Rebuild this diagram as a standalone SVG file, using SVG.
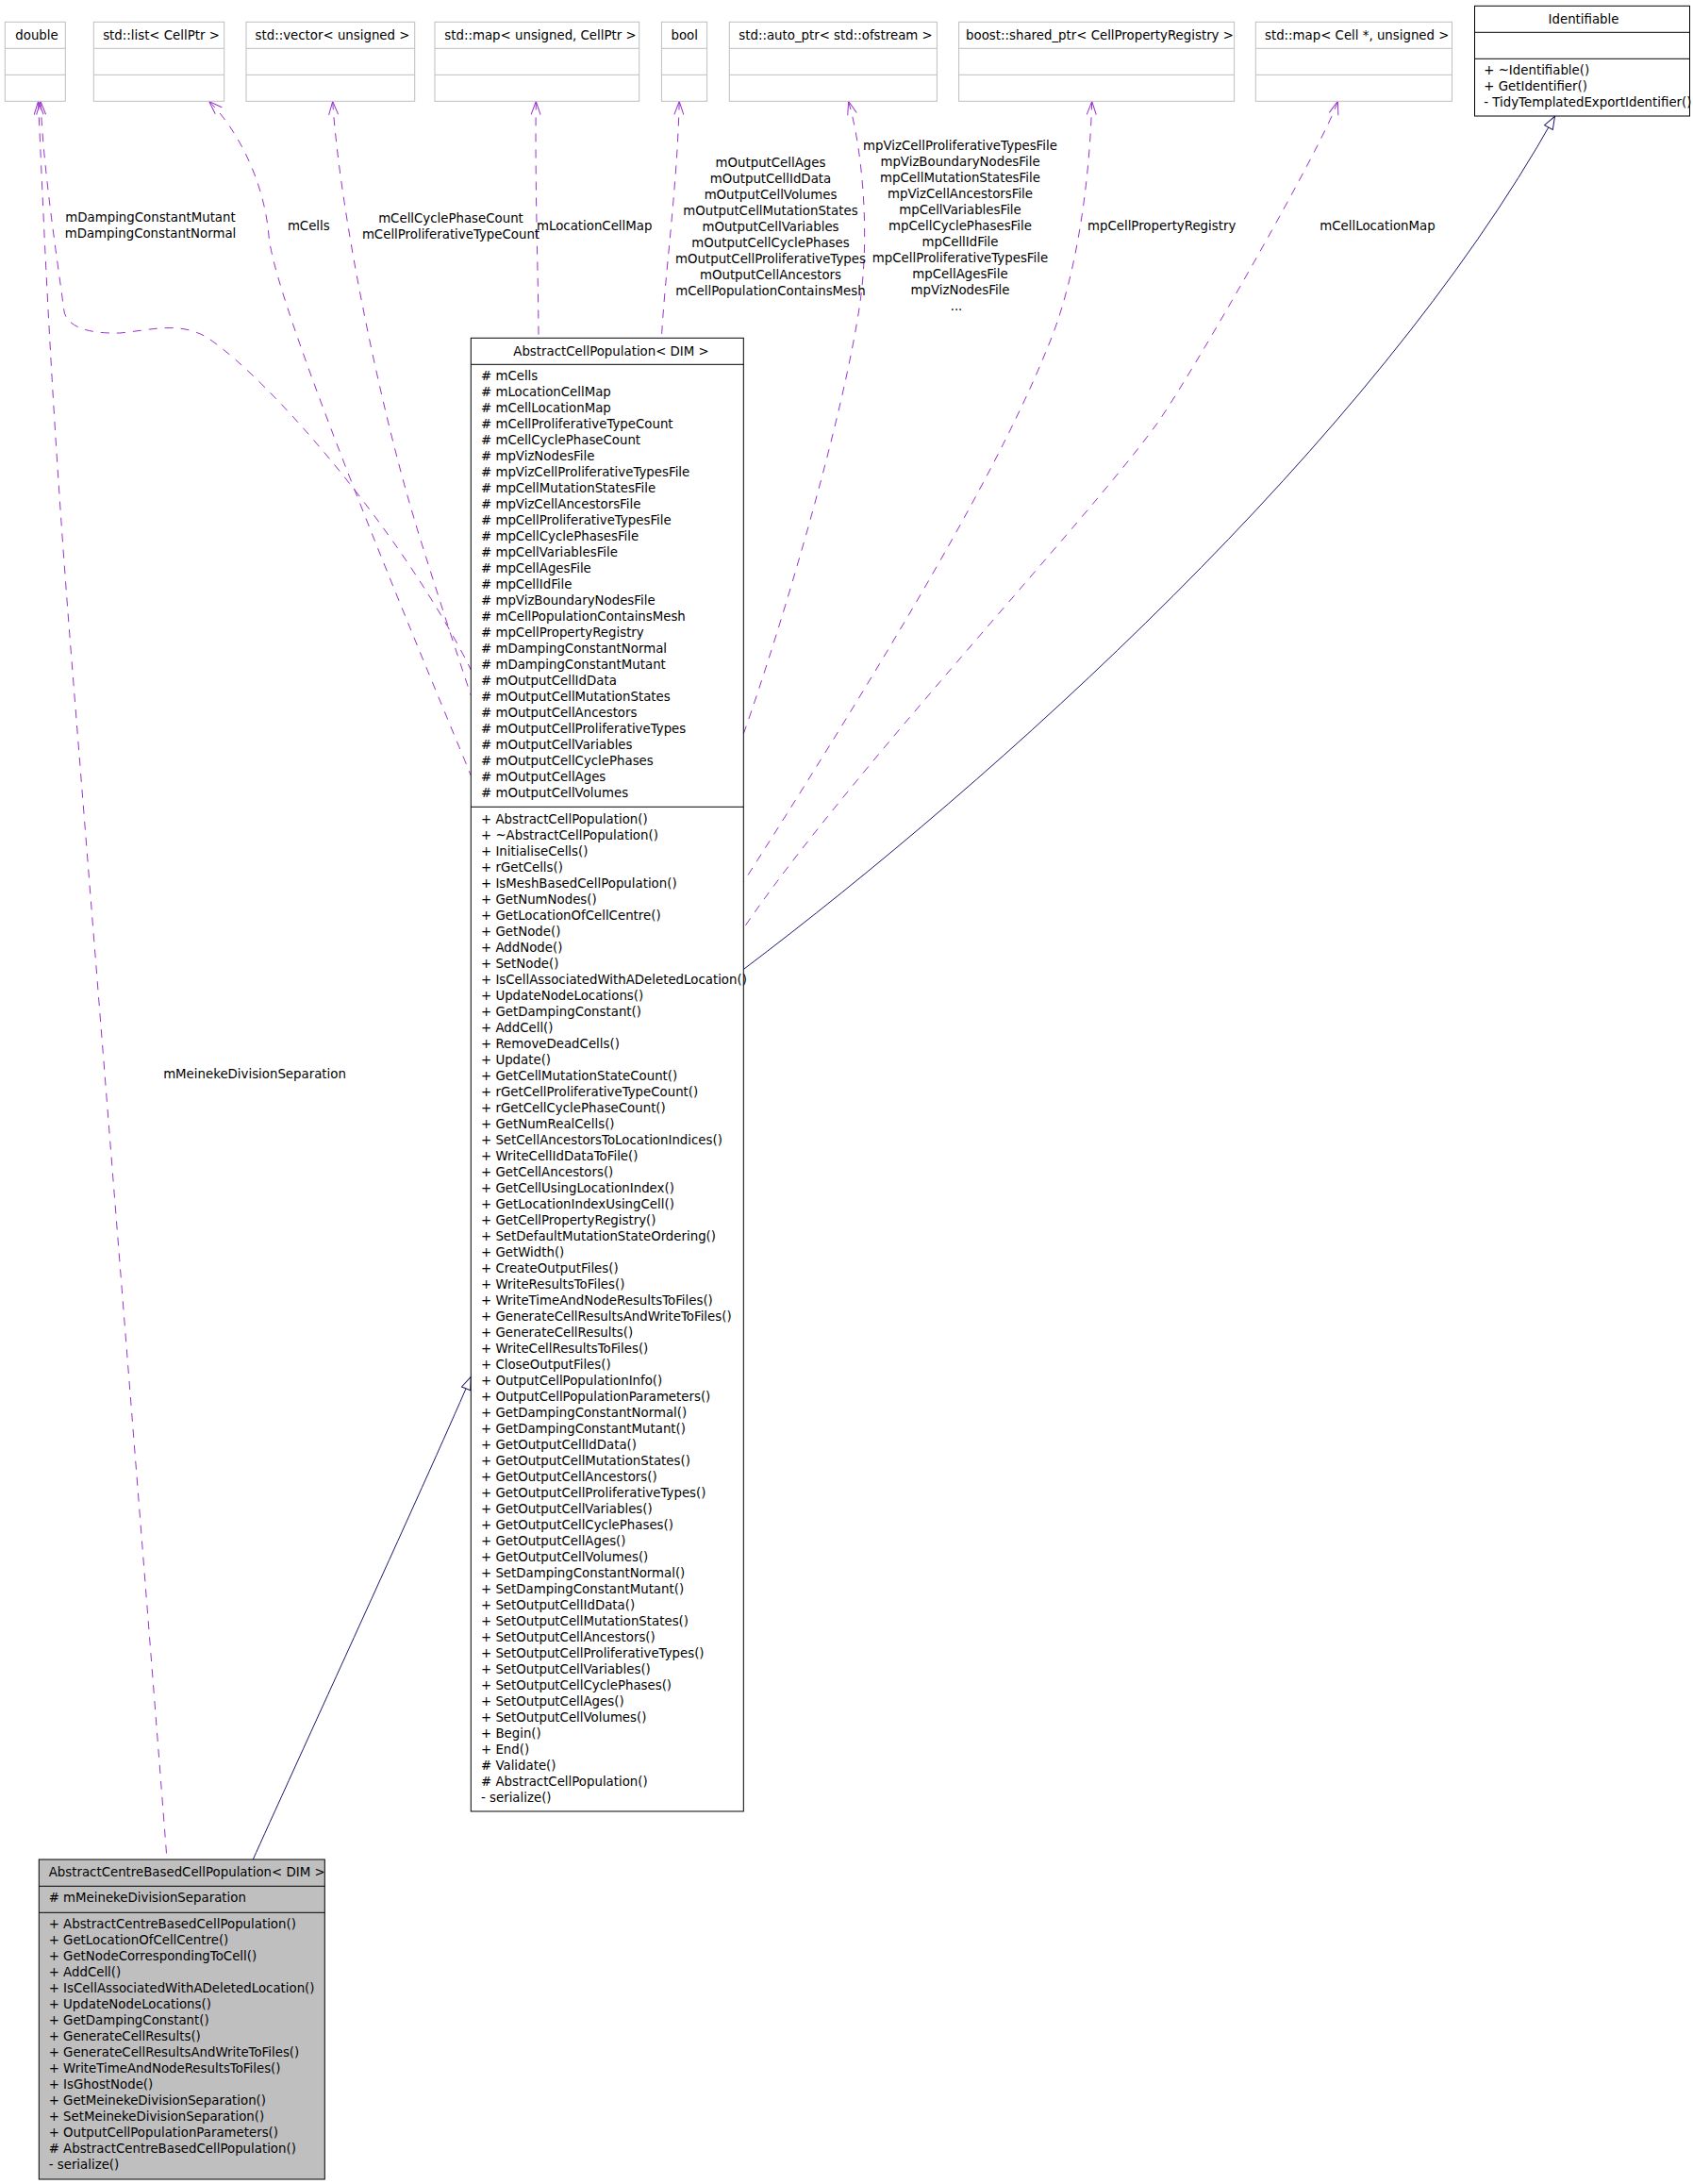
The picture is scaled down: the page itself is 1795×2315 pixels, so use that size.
<svg xmlns="http://www.w3.org/2000/svg" width="1795" height="2315" viewBox="0 0 1795 2315">
<style>
text{font-family:"DejaVu Sans","Bitstream Vera Sans",sans-serif;font-size:13.33px;fill:#000}
.c{text-anchor:middle}
.box{fill:#fff;stroke:#000;stroke-width:1}
.ext{fill:#fff;stroke:#bfbfbf;stroke-width:1}
.cur{fill:#bfbfbf;stroke:#000;stroke-width:1}
.sep{stroke:#000;stroke-width:1}
.esep{stroke:#bfbfbf;stroke-width:1}
.dep{fill:none;stroke:#9a32cd;stroke-width:1;stroke-dasharray:9,8;marker-start:url(#vee)}
.inh{fill:none;stroke:#191970;stroke-width:1;marker-start:url(#tri)}
</style>
<defs>
<marker id="vee" markerUnits="userSpaceOnUse" viewBox="-2 -8 20 16" markerWidth="20" markerHeight="16" refX="0" refY="0" orient="auto" overflow="visible">
<polyline points="14,-5 0,0 14,5" fill="none" stroke="#9a32cd" stroke-width="1"/>
</marker>
<marker id="tri" markerUnits="userSpaceOnUse" viewBox="-2 -8 20 16" markerWidth="20" markerHeight="16" refX="0" refY="0" orient="auto" overflow="visible">
<polygon points="0,0 13.5,-5 13.5,5" fill="#fff" stroke="#191970" stroke-width="1"/>
</marker>
</defs>
<rect width="1795" height="2315" fill="#fff"/>

<g id="connectors">
<path id="e-meineke" class="dep" d="M40.5,107.5 C46,220 52,400 76,700 C100,1000 160,1750 177,1971"/>
<path id="e-damping" class="dep" d="M43,107.5 C46,180 60,270 68,330 C71,345 90,354 127,353 C160,350 190,340 220,358 C290,405 430,570 499.3,710"/>
<path id="e-cells" class="dep" d="M221.7,107.5 C250,135 280,190 285,250 C292,330 470,750 499.3,822"/>
<path id="e-vector" class="dep" d="M352.7,107.5 C360,220 400,420 440,553 C452,593 485,695 499.3,737"/>
<path id="e-locmap" class="dep" d="M568.3,107.5 C567,200 571,300 571,358.3"/>
<path id="e-bool" class="dep" d="M720.2,107.5 C718,200 705,290 701.4,358.3"/>
<path id="e-autoptr" class="dep" d="M899.6,107.5 C915,160 922,250 912,320 C895,440 830,660 788.3,778"/>
<path id="e-registry" class="dep" d="M1157.7,107.5 C1155,200 1140,300 1110,370 C1050,520 900,760 788.3,935"/>
<path id="e-cellloc" class="dep" d="M1418.3,107.5 C1405,150 1262,400 1226,450 C1150,555 900,820 788.3,984"/>
<path id="e-identifiable" class="inh" d="M1648.5,123.3 C1455,470 1050,830 788.3,1027.5"/>
<path id="e-base" class="inh" d="M499.3,1459.4 C470,1530 300,1900 268.3,1971"/>
<g id="edge-labels">
<text class="c" x="159.5" y="235">mDampingConstantMutant</text>
<text class="c" x="159.5" y="252">mDampingConstantNormal</text>
<text class="c" x="327.3" y="244">mCells</text>
<text class="c" x="478" y="235.5">mCellCyclePhaseCount</text>
<text class="c" x="478" y="252.5">mCellProliferativeTypeCount</text>
<text x="569" y="244">mLocationCellMap</text>
<text class="c" x="817"><tspan x="817" y="176.5">mOutputCellAges</tspan><tspan x="817" dy="17">mOutputCellIdData</tspan><tspan x="817" dy="17">mOutputCellVolumes</tspan><tspan x="817" dy="17">mOutputCellMutationStates</tspan><tspan x="817" dy="17">mOutputCellVariables</tspan><tspan x="817" dy="17">mOutputCellCyclePhases</tspan><tspan x="817" dy="17">mOutputCellProliferativeTypes</tspan><tspan x="817" dy="17">mOutputCellAncestors</tspan><tspan x="817" dy="17">mCellPopulationContainsMesh</tspan></text>
<text class="c" x="1018"><tspan x="1018" y="159">mpVizCellProliferativeTypesFile</tspan><tspan x="1018" dy="17">mpVizBoundaryNodesFile</tspan><tspan x="1018" dy="17">mpCellMutationStatesFile</tspan><tspan x="1018" dy="17">mpVizCellAncestorsFile</tspan><tspan x="1018" dy="17">mpCellVariablesFile</tspan><tspan x="1018" dy="17">mpCellCyclePhasesFile</tspan><tspan x="1018" dy="17">mpCellIdFile</tspan><tspan x="1018" dy="17">mpCellProliferativeTypesFile</tspan><tspan x="1018" dy="17">mpCellAgesFile</tspan><tspan x="1018" dy="17">mpVizNodesFile</tspan><tspan x="1014" dy="17">...</tspan></text>
<text x="1153" y="244">mpCellPropertyRegistry</text>
<text x="1399.3" y="244">mCellLocationMap</text>
<text class="c" x="270" y="1143">mMeinekeDivisionSeparation</text>
</g>
</g>

<g id="node-double">
<rect class="ext" x="5.3" y="23.3" width="64" height="84"/>
<line class="esep" x1="5.3" y1="51.3" x2="69.3" y2="51.3"/>
<line class="esep" x1="5.3" y1="79.3" x2="69.3" y2="79.3"/>
<text class="c" x="39" y="41.5">double</text>
</g>
<g id="node-list">
<rect class="ext" x="99.3" y="23.3" width="138.4" height="84"/>
<line class="esep" x1="99.3" y1="51.3" x2="237.7" y2="51.3"/>
<line class="esep" x1="99.3" y1="79.3" x2="237.7" y2="79.3"/>
<text class="c" x="171" y="41.5">std::list&lt; CellPtr &gt;</text>
</g>
<g id="node-vector">
<rect class="ext" x="261" y="23.3" width="178.7" height="84"/>
<line class="esep" x1="261" y1="51.3" x2="439.7" y2="51.3"/>
<line class="esep" x1="261" y1="79.3" x2="439.7" y2="79.3"/>
<text class="c" x="352.5" y="41.5">std::vector&lt; unsigned &gt;</text>
</g>
<g id="node-map-unsigned">
<rect class="ext" x="461" y="23.3" width="216.7" height="84"/>
<line class="esep" x1="461" y1="51.3" x2="677.7" y2="51.3"/>
<line class="esep" x1="461" y1="79.3" x2="677.7" y2="79.3"/>
<text class="c" x="573" y="41.5">std::map&lt; unsigned, CellPtr &gt;</text>
</g>
<g id="node-bool">
<rect class="ext" x="701.4" y="23.3" width="48.2" height="84"/>
<line class="esep" x1="701.4" y1="51.3" x2="749.6" y2="51.3"/>
<line class="esep" x1="701.4" y1="79.3" x2="749.6" y2="79.3"/>
<text class="c" x="725.7" y="41.5">bool</text>
</g>
<g id="node-autoptr">
<rect class="ext" x="773.3" y="23.3" width="220.1" height="84"/>
<line class="esep" x1="773.3" y1="51.3" x2="993.4" y2="51.3"/>
<line class="esep" x1="773.3" y1="79.3" x2="993.4" y2="79.3"/>
<text class="c" x="886" y="41.5">std::auto_ptr&lt; std::ofstream &gt;</text>
</g>
<g id="node-sharedptr">
<rect class="ext" x="1016.6" y="23.3" width="292" height="84"/>
<line class="esep" x1="1016.6" y1="51.3" x2="1308.6" y2="51.3"/>
<line class="esep" x1="1016.6" y1="79.3" x2="1308.6" y2="79.3"/>
<text class="c" x="1166" y="41.5">boost::shared_ptr&lt; CellPropertyRegistry &gt;</text>
</g>
<g id="node-map-cell">
<rect class="ext" x="1331.3" y="23.3" width="208.2" height="84"/>
<line class="esep" x1="1331.3" y1="51.3" x2="1539.5" y2="51.3"/>
<line class="esep" x1="1331.3" y1="79.3" x2="1539.5" y2="79.3"/>
<text class="c" x="1438.7" y="41.5">std::map&lt; Cell *, unsigned &gt;</text>
</g>
<g id="node-identifiable">
<rect class="box" x="1563.5" y="6.3" width="228" height="116.7"/>
<line class="sep" x1="1563.5" y1="34.3" x2="1791.5" y2="34.3"/>
<line class="sep" x1="1563.5" y1="62.3" x2="1791.5" y2="62.3"/>
<text class="c" x="1679" y="24.6">Identifiable</text>
<text><tspan x="1573.3" y="79.3">+ ~Identifiable()</tspan><tspan x="1573.3" dy="17">+ GetIdentifier()</tspan><tspan x="1573.3" dy="17">- TidyTemplatedExportIdentifier()</tspan></text>
</g>

<g id="node-abstractcellpopulation">
<rect class="box" x="499.3" y="358.3" width="289" height="1561.7"/>
<line class="sep" x1="499.3" y1="386.3" x2="788.3" y2="386.3"/>
<line class="sep" x1="499.3" y1="855.3" x2="788.3" y2="855.3"/>
<text class="c" x="648" y="376.7">AbstractCellPopulation&lt; DIM &gt;</text>
<text><tspan x="510" y="403.3"># mCells</tspan><tspan x="510" dy="17"># mLocationCellMap</tspan><tspan x="510" dy="17"># mCellLocationMap</tspan><tspan x="510" dy="17"># mCellProliferativeTypeCount</tspan><tspan x="510" dy="17"># mCellCyclePhaseCount</tspan><tspan x="510" dy="17"># mpVizNodesFile</tspan><tspan x="510" dy="17"># mpVizCellProliferativeTypesFile</tspan><tspan x="510" dy="17"># mpCellMutationStatesFile</tspan><tspan x="510" dy="17"># mpVizCellAncestorsFile</tspan><tspan x="510" dy="17"># mpCellProliferativeTypesFile</tspan><tspan x="510" dy="17"># mpCellCyclePhasesFile</tspan><tspan x="510" dy="17"># mpCellVariablesFile</tspan><tspan x="510" dy="17"># mpCellAgesFile</tspan><tspan x="510" dy="17"># mpCellIdFile</tspan><tspan x="510" dy="17"># mpVizBoundaryNodesFile</tspan><tspan x="510" dy="17"># mCellPopulationContainsMesh</tspan><tspan x="510" dy="17"># mpCellPropertyRegistry</tspan><tspan x="510" dy="17"># mDampingConstantNormal</tspan><tspan x="510" dy="17"># mDampingConstantMutant</tspan><tspan x="510" dy="17"># mOutputCellIdData</tspan><tspan x="510" dy="17"># mOutputCellMutationStates</tspan><tspan x="510" dy="17"># mOutputCellAncestors</tspan><tspan x="510" dy="17"># mOutputCellProliferativeTypes</tspan><tspan x="510" dy="17"># mOutputCellVariables</tspan><tspan x="510" dy="17"># mOutputCellCyclePhases</tspan><tspan x="510" dy="17"># mOutputCellAges</tspan><tspan x="510" dy="17"># mOutputCellVolumes</tspan></text>
<text><tspan x="510" y="873">+ AbstractCellPopulation()</tspan><tspan x="510" dy="17">+ ~AbstractCellPopulation()</tspan><tspan x="510" dy="17">+ InitialiseCells()</tspan><tspan x="510" dy="17">+ rGetCells()</tspan><tspan x="510" dy="17">+ IsMeshBasedCellPopulation()</tspan><tspan x="510" dy="17">+ GetNumNodes()</tspan><tspan x="510" dy="17">+ GetLocationOfCellCentre()</tspan><tspan x="510" dy="17">+ GetNode()</tspan><tspan x="510" dy="17">+ AddNode()</tspan><tspan x="510" dy="17">+ SetNode()</tspan><tspan x="510" dy="17">+ IsCellAssociatedWithADeletedLocation()</tspan><tspan x="510" dy="17">+ UpdateNodeLocations()</tspan><tspan x="510" dy="17">+ GetDampingConstant()</tspan><tspan x="510" dy="17">+ AddCell()</tspan><tspan x="510" dy="17">+ RemoveDeadCells()</tspan><tspan x="510" dy="17">+ Update()</tspan><tspan x="510" dy="17">+ GetCellMutationStateCount()</tspan><tspan x="510" dy="17">+ rGetCellProliferativeTypeCount()</tspan><tspan x="510" dy="17">+ rGetCellCyclePhaseCount()</tspan><tspan x="510" dy="17">+ GetNumRealCells()</tspan><tspan x="510" dy="17">+ SetCellAncestorsToLocationIndices()</tspan><tspan x="510" dy="17">+ WriteCellIdDataToFile()</tspan><tspan x="510" dy="17">+ GetCellAncestors()</tspan><tspan x="510" dy="17">+ GetCellUsingLocationIndex()</tspan><tspan x="510" dy="17">+ GetLocationIndexUsingCell()</tspan><tspan x="510" dy="17">+ GetCellPropertyRegistry()</tspan><tspan x="510" dy="17">+ SetDefaultMutationStateOrdering()</tspan><tspan x="510" dy="17">+ GetWidth()</tspan><tspan x="510" dy="17">+ CreateOutputFiles()</tspan><tspan x="510" dy="17">+ WriteResultsToFiles()</tspan><tspan x="510" dy="17">+ WriteTimeAndNodeResultsToFiles()</tspan><tspan x="510" dy="17">+ GenerateCellResultsAndWriteToFiles()</tspan><tspan x="510" dy="17">+ GenerateCellResults()</tspan><tspan x="510" dy="17">+ WriteCellResultsToFiles()</tspan><tspan x="510" dy="17">+ CloseOutputFiles()</tspan><tspan x="510" dy="17">+ OutputCellPopulationInfo()</tspan><tspan x="510" dy="17">+ OutputCellPopulationParameters()</tspan><tspan x="510" dy="17">+ GetDampingConstantNormal()</tspan><tspan x="510" dy="17">+ GetDampingConstantMutant()</tspan><tspan x="510" dy="17">+ GetOutputCellIdData()</tspan><tspan x="510" dy="17">+ GetOutputCellMutationStates()</tspan><tspan x="510" dy="17">+ GetOutputCellAncestors()</tspan><tspan x="510" dy="17">+ GetOutputCellProliferativeTypes()</tspan><tspan x="510" dy="17">+ GetOutputCellVariables()</tspan><tspan x="510" dy="17">+ GetOutputCellCyclePhases()</tspan><tspan x="510" dy="17">+ GetOutputCellAges()</tspan><tspan x="510" dy="17">+ GetOutputCellVolumes()</tspan><tspan x="510" dy="17">+ SetDampingConstantNormal()</tspan><tspan x="510" dy="17">+ SetDampingConstantMutant()</tspan><tspan x="510" dy="17">+ SetOutputCellIdData()</tspan><tspan x="510" dy="17">+ SetOutputCellMutationStates()</tspan><tspan x="510" dy="17">+ SetOutputCellAncestors()</tspan><tspan x="510" dy="17">+ SetOutputCellProliferativeTypes()</tspan><tspan x="510" dy="17">+ SetOutputCellVariables()</tspan><tspan x="510" dy="17">+ SetOutputCellCyclePhases()</tspan><tspan x="510" dy="17">+ SetOutputCellAges()</tspan><tspan x="510" dy="17">+ SetOutputCellVolumes()</tspan><tspan x="510" dy="17">+ Begin()</tspan><tspan x="510" dy="17">+ End()</tspan><tspan x="510" dy="17"># Validate()</tspan><tspan x="510" dy="17"># AbstractCellPopulation()</tspan><tspan x="510" dy="17">- serialize()</tspan></text>
</g>

<g id="node-abstractcentrebasedcellpopulation">
<rect class="cur" x="41.3" y="1971" width="303" height="339"/>
<line class="sep" x1="41.3" y1="1999.3" x2="344.3" y2="1999.3"/>
<line class="sep" x1="41.3" y1="2027.3" x2="344.3" y2="2027.3"/>
<text x="51.7" y="1989.3">AbstractCentreBasedCellPopulation&lt; DIM &gt;</text>
<text x="51.7" y="2016.3"># mMeinekeDivisionSeparation</text>
<text><tspan x="51.7" y="2044.3">+ AbstractCentreBasedCellPopulation()</tspan><tspan x="51.7" dy="17">+ GetLocationOfCellCentre()</tspan><tspan x="51.7" dy="17">+ GetNodeCorrespondingToCell()</tspan><tspan x="51.7" dy="17">+ AddCell()</tspan><tspan x="51.7" dy="17">+ IsCellAssociatedWithADeletedLocation()</tspan><tspan x="51.7" dy="17">+ UpdateNodeLocations()</tspan><tspan x="51.7" dy="17">+ GetDampingConstant()</tspan><tspan x="51.7" dy="17">+ GenerateCellResults()</tspan><tspan x="51.7" dy="17">+ GenerateCellResultsAndWriteToFiles()</tspan><tspan x="51.7" dy="17">+ WriteTimeAndNodeResultsToFiles()</tspan><tspan x="51.7" dy="17">+ IsGhostNode()</tspan><tspan x="51.7" dy="17">+ GetMeinekeDivisionSeparation()</tspan><tspan x="51.7" dy="17">+ SetMeinekeDivisionSeparation()</tspan><tspan x="51.7" dy="17">+ OutputCellPopulationParameters()</tspan><tspan x="51.7" dy="17"># AbstractCentreBasedCellPopulation()</tspan><tspan x="51.7" dy="17">- serialize()</tspan></text>
</g>
</svg>
